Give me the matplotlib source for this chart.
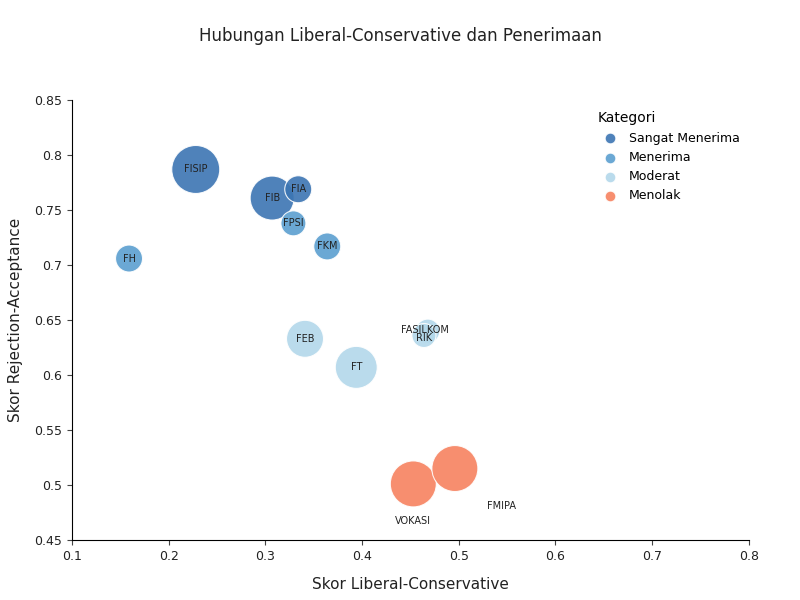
import matplotlib
matplotlib.use("Agg")
import matplotlib.pyplot as plt

names = ["FISIP","FIB","FIA","FPSI","FKM","FH","FEB","FT","FASILKOM","RIK","VOKASI","FMIPA"]
lib_cons = [0.228,0.307,0.334,0.329,0.364,0.159,0.341,0.394,0.468,0.464,0.453,0.496]
rej_acc = [0.787,0.761,0.769,0.738,0.717,0.706,0.633,0.607,0.640,0.636,0.501,0.515]
radius_px = [24,22,13.5,12.5,13.5,13.5,18.5,21,12,12,23,23]
kategori = ["Sangat Menerima","Sangat Menerima","Sangat Menerima","Menerima","Menerima","Menerima",
            "Moderat","Moderat","Moderat","Moderat","Menolak","Menolak"]
cat_order = ["Sangat Menerima","Menerima","Moderat","Menolak"]
colors = {"Sangat Menerima":"#3c75b3","Menerima":"#5b9fd0","Moderat":"#b3d8ea","Menolak":"#f7825f"}

fig = plt.figure(figsize=(8,6), dpi=100)
ax = fig.add_axes([0.09, 0.1, 0.846, 0.733])
for c in cat_order:
    idx = [i for i,k in enumerate(kategori) if k == c]
    ax.scatter([lib_cons[i] for i in idx], [rej_acc[i] for i in idx],
               s=[(2*radius_px[i]*0.72)**2 for i in idx], color=colors[c], alpha=0.9,
               edgecolors="white", linewidths=0.8, label=c, zorder=3)
for i,n in enumerate(names):
    if n == "VOKASI":
        ax.text(lib_cons[i], rej_acc[i]-0.034, n, ha="center", va="center", fontsize=7, color="#222")
    elif n == "FMIPA":
        ax.text(lib_cons[i]+0.048, rej_acc[i]-0.034, n, ha="center", va="center", fontsize=7, color="#222")
    elif n == "RIK":
        ax.text(lib_cons[i], rej_acc[i]-0.002, n, ha="center", va="center", fontsize=7, color="#222", zorder=4)
    elif n == "FASILKOM":
        ax.text(lib_cons[i]-0.003, rej_acc[i]+0.001, n, ha="center", va="center", fontsize=7, color="#222", zorder=4)
    else:
        ax.text(lib_cons[i], rej_acc[i], n, ha="center", va="center", fontsize=7, color="#222", zorder=4)

ax.set_xlim(0.1, 0.8)
ax.set_ylim(0.45, 0.85)
ax.set_xticks([0.1,0.2,0.3,0.4,0.5,0.6,0.7,0.8])
ax.set_xticklabels(["0.1","0.2","0.3","0.4","0.5","0.6","0.7","0.8"])
ax.set_yticks([0.45,0.5,0.55,0.6,0.65,0.7,0.75,0.8,0.85])
ax.set_yticklabels(["0.45","0.5","0.55","0.6","0.65","0.7","0.75","0.8","0.85"])
for s in ["top","right"]:
    ax.spines[s].set_visible(False)
ax.tick_params(labelsize=9, color="#444", labelcolor="#222")
ax.set_xlabel("Skor Liberal-Conservative", fontsize=11, color="#222", labelpad=10)
ax.set_ylabel("Skor Rejection-Acceptance", fontsize=11, color="#222", labelpad=8)
fig.suptitle("Hubungan Liberal-Conservative dan Penerimaan", fontsize=12, color="#222", y=0.955)
leg = ax.legend(title="Kategori", loc="upper left", bbox_to_anchor=(0.76, 1.0), frameon=False,
                fontsize=9, title_fontsize=10, markerscale=1, handletextpad=0.5, labelspacing=0.5)
for h in leg.legend_handles:
    h.set_sizes([60])
leg._legend_box.align = "left"
fig.savefig("out.png")
